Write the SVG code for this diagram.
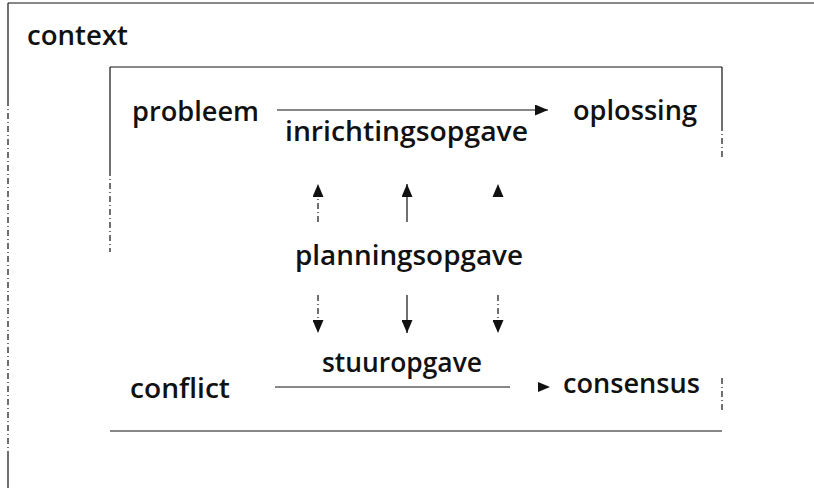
<svg xmlns="http://www.w3.org/2000/svg" width="814" height="488" viewBox="0 0 814 488">
<style>
  .t { font-family: "Open Sans", "DejaVu Sans", sans-serif; font-size: 27.5px; font-weight: 600; fill: #111; }
  .ln { stroke: #111; stroke-width: 1.2; fill: none; }
  .dl { stroke: #111; stroke-width: 1.2; fill: none; stroke-dasharray: 6 3 1 3; }
  .ah { fill: #111; }
</style>
<defs>
  <marker id="arr" viewBox="0 0 13 11" refX="13" refY="5.5" markerWidth="13" markerHeight="11" markerUnits="userSpaceOnUse" orient="auto">
    <path d="M0,0 L13,5.5 L0,11 Z" class="ah"/>
  </marker>
</defs>
<rect width="814" height="488" fill="#fff"/>

<g id="context-frame">
  <line class="ln" x1="8" y1="3" x2="814" y2="3"/>
  <line class="ln" x1="8" y1="3" x2="8" y2="100"/>
  <line class="dl" x1="8" y1="100" x2="8" y2="457"/>
  <line class="ln" x1="8" y1="457" x2="8" y2="488"/>
  <text class="t" x="27" y="45" textLength="101" lengthAdjust="spacingAndGlyphs">context</text>
</g>

<g id="inner-frame">
  <line class="ln" x1="110" y1="67" x2="722" y2="67"/>
  <line class="ln" x1="110" y1="67" x2="110" y2="170"/>
  <line class="dl" x1="110" y1="170" x2="110" y2="252"/>
  <line class="ln" x1="722" y1="67" x2="722" y2="125"/>
  <line class="dl" x1="722" y1="125" x2="722" y2="160"/>
  <line class="dl" x1="722" y1="378" x2="722" y2="410"/>
  <line class="ln" x1="110" y1="431" x2="722" y2="431"/>
</g>

<g id="probleem"><text class="t" x="132" y="121" textLength="127" lengthAdjust="spacingAndGlyphs">probleem</text></g>
<g id="oplossing"><text class="t" x="573" y="120" textLength="124" lengthAdjust="spacingAndGlyphs">oplossing</text></g>
<g id="inrichtingsopgave"><text class="t" x="285" y="141" textLength="243" lengthAdjust="spacingAndGlyphs">inrichtingsopgave</text></g>
<g id="planningsopgave"><text class="t" x="295" y="265" textLength="228" lengthAdjust="spacingAndGlyphs">planningsopgave</text></g>
<g id="stuuropgave"><text class="t" x="322" y="372" textLength="160" lengthAdjust="spacingAndGlyphs">stuuropgave</text></g>
<g id="conflict"><text class="t" x="130" y="398" textLength="100" lengthAdjust="spacingAndGlyphs">conflict</text></g>
<g id="consensus"><text class="t" x="563" y="393" textLength="137" lengthAdjust="spacingAndGlyphs">consensus</text></g>

<g id="connectors">
  <line class="ln" x1="277" y1="110" x2="548" y2="110" marker-end="url(#arr)"/>
  <line class="ln" x1="275" y1="387" x2="510" y2="387"/>
  <path class="ah" d="M538,382 L550,387 L538,392 Z"/>

  <line class="dl" x1="318" y1="222" x2="318" y2="184" marker-end="url(#arr)"/>
  <line class="ln" x1="407" y1="222" x2="407" y2="184" marker-end="url(#arr)"/>
  <path class="ah" d="M492.5,197 L498,184 L503.5,197 Z"/>

  <line class="dl" x1="318" y1="295" x2="318" y2="333" marker-end="url(#arr)"/>
  <line class="ln" x1="407" y1="295" x2="407" y2="333" marker-end="url(#arr)"/>
  <line class="dl" x1="498" y1="295" x2="498" y2="333" marker-end="url(#arr)"/>
</g>
</svg>
